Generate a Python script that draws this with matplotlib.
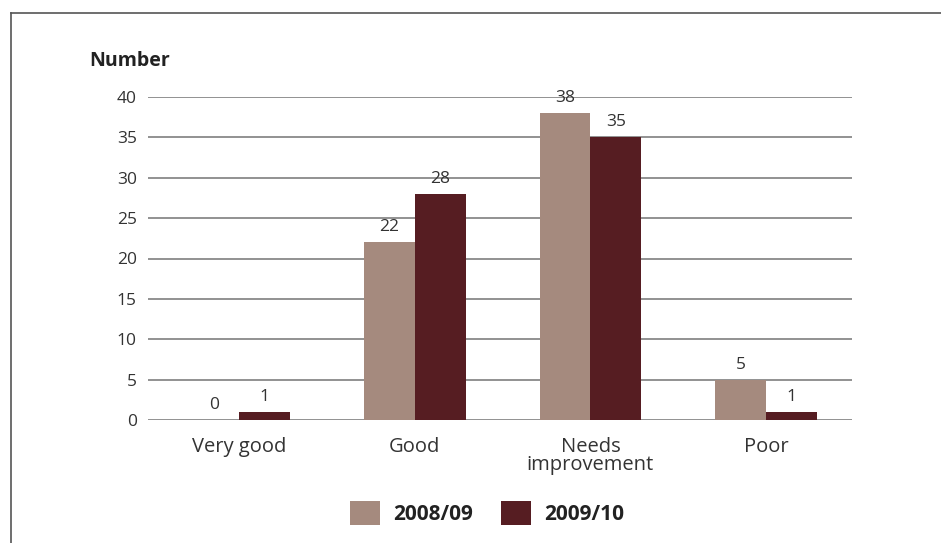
import numpy as np
import matplotlib
matplotlib.use("Agg")
import matplotlib.pyplot as plt
from matplotlib.lines import Line2D

# --- DATA
categories = ["Very good", "Good", "Needs\nimprovement", "Poor"]
series_names = ["2008/09", "2009/10"]
vals_0809 = [0, 22, 38, 5]
vals_0910 = [1, 28, 35, 1]
yticks = [0, 5, 10, 15, 20, 25, 30, 35, 40]

colors = ["#a58a7e", "#561d22"]

plt.rcParams['font.family'] = ['Open Sans', 'DejaVu Sans']

fig = plt.figure(figsize=(9.41, 5.43), dpi=100)
ax = fig.add_axes([148/941, 1-420/543, (852-148)/941, (420-97)/543])

x = np.arange(len(categories))
w = 0.29
bars1 = ax.bar(x - w/2, vals_0809, w, color=colors[0], label=series_names[0], zorder=3)
bars2 = ax.bar(x + w/2, vals_0910, w, color=colors[1], label=series_names[1], zorder=3)

# value labels above each bar
for bars, vals in [(bars1, vals_0809), (bars2, vals_0910)]:
    for b, v in zip(bars, vals):
        ax.annotate(str(v), (b.get_x() + b.get_width()/2, b.get_height()),
                    xytext=(0, 5), textcoords="offset points",
                    ha="center", va="bottom", fontsize=12.5, color="#333333",
                    zorder=4)

ax.set_xlim(-0.52, 3.49)
ax.set_ylim(0, 40)
ax.set_yticks(yticks)
ax.set_xticks(x)
ax.set_xticklabels(categories, fontsize=14.5, color="#333333", linespacing=0.9)
ax.tick_params(axis="y", length=0, pad=8, labelsize=12.5, labelcolor="#333333")
ax.tick_params(axis="x", length=0, pad=12)
ax.grid(axis="y", color="#7f7f7f", linewidth=1.2, zorder=0)
for s in ax.spines.values():
    s.set_visible(False)

fig.text(89/941, 1-61/543, "Number", fontsize=14, fontweight="bold",
         color="#222222", ha="left", va="center")

leg = fig.legend(handles=[bars1, bars2], labels=series_names, ncol=2,
                 loc="center", bbox_to_anchor=(487/941, 1-513/543),
                 frameon=False, prop={"weight": "bold", "size": 15},
                 handlelength=1.45, handleheight=1.45, columnspacing=1.35,
                 handletextpad=0.63)
for t in leg.get_texts():
    t.set_color("#222222")

# outer frame lines (top and left)
fig.add_artist(Line2D([11/941, 11/941], [0, 1-13/543], color="#555555", linewidth=1.2))
fig.add_artist(Line2D([11/941, 1], [1-13/543, 1-13/543], color="#555555", linewidth=1.2))

fig.savefig("out.png", dpi=100)
